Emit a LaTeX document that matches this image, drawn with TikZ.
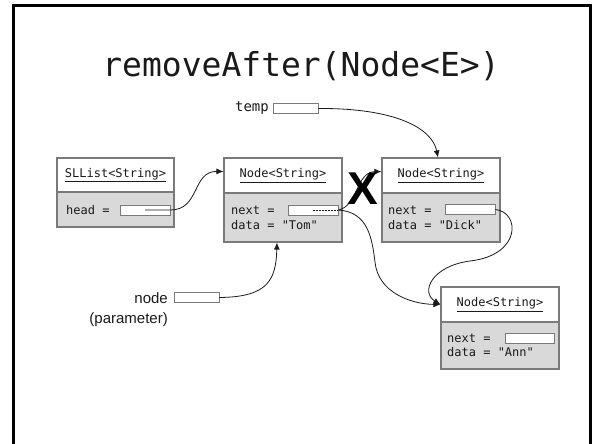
\documentclass[tikz,border=0pt]{standalone}
\usepackage{fontspec}
\setmainfont{Liberation Sans}
\newfontfamily\codefont{DejaVu Sans Mono}
\usetikzlibrary{arrows.meta}
\definecolor{boxline}{HTML}{7A7A7A}
\definecolor{boxfill}{HTML}{D9D9D9}
\definecolor{ink}{HTML}{1A1A1A}

\tikzset{
  hdrbox/.style={draw=boxline, fill=white, line width=1.1pt, minimum width=118pt,
    minimum height=35pt, inner sep=0pt, font=\codefont\fontsize{12}{14}\selectfont, text=ink},
  bodybox/.style={draw=boxline, fill=boxfill, line width=1.1pt, minimum width=118pt, inner sep=0pt},
  field/.style={draw=boxline, fill=white, line width=0.8pt, minimum width=50pt,
    minimum height=10pt, inner sep=0pt},
  codetext/.style={anchor=west, inner sep=0pt, font=\codefont\fontsize{12}{14}\selectfont, text=ink},
  labeltext/.style={anchor=east, inner sep=0pt, font=\fontsize{15}{17}\selectfont, text=ink},
  ptr/.style={line width=0.8pt, draw=ink, -{Latex[length=7pt,width=6pt]}},
}

\begin{document}
\begin{tikzpicture}[x=1pt,y=-1pt]
\useasboundingbox (0,0) rectangle (602,444);

% slide frame
\draw[line width=3pt] (13,444) -- (13,6) -- (590,6) -- (590,444);

% title
\node[font=\codefont\fontsize{33}{36}\selectfont, text=ink] (title) at (301,66) {removeAfter(Node<E>)};

% list object
\node[hdrbox, minimum width=117pt, minimum height=34pt] (slh) at (115.5,175) {\underline{SLList<String>}};
\node[bodybox, minimum width=117pt, minimum height=35pt] (slb) at (115.5,209.5) {};
\node[codetext] (slhead) at (66,210) {head =};
\node[field] (slf) at (145,210) {};

% node "Tom"
\node[hdrbox] (tomh) at (283,175.5) {\underline{Node<String>}};
\node[bodybox, minimum height=49pt] (tomb) at (283,217.5) {};
\node[codetext] (tomnext) at (231,210) {next =};
\node[codetext] (tomdata) at (231,225) {data = "Tom"};
\node[field] (tomf) at (313,210) {};

% node "Dick"
\node[hdrbox] (dickh) at (441,175.5) {\underline{Node<String>}};
\node[bodybox, minimum height=49pt] (dickb) at (441,217.5) {};
\node[codetext] (dicknext) at (388,210) {next =};
\node[codetext] (dickdata) at (388,225) {data = "Dick"};
\node[field] (dickf) at (470,209.5) {};

% node "Ann"
\node[hdrbox] (annh) at (500,304.5) {\underline{Node<String>}};
\node[bodybox, minimum height=47pt] (annb) at (500,345.5) {};
\node[codetext] (annnext) at (447,338) {next =};
\node[codetext] (anndata) at (447,352.5) {data = "Ann"};
\node[field, minimum width=49pt] (annf) at (529.5,338) {};

% local variables
\node[codetext, anchor=east, font=\codefont\fontsize{14}{16}\selectfont] (templbl) at (269,108) {temp};
\node[field, minimum width=45pt] (tempf) at (295.5,108.5) {};
\node[labeltext] (nodelbl) at (168,298) {node};
\node[labeltext] (paramlbl) at (168,320) {(parameter)};
\node[field, minimum width=45pt] (nodef) at (196.5,297.5) {};

% references
\draw[ptr] (slf.center) -- (slf.east) .. controls (200,210) and (192,171) .. ([yshift=4pt]tomh.west);
\draw[ptr] (tempf.east) .. controls (395,108) and (432,128) .. ([xshift=-3pt]dickh.north);
\draw[ptr] (nodef.east) .. controls (268,297) and (276,280) .. ([xshift=-6pt]tomb.south);
\draw[line width=0.6pt, ink, dashed, dash pattern=on 2pt off 1pt] (tomf.center) -- (tomf.east);
\draw[ptr] (tomf.east) .. controls (358,206) and (356,172) .. ([yshift=4pt]dickh.west);
\draw[ptr] (tomf.east) .. controls (368,212) and (372,238) .. (375,262)
  .. controls (378,292) and (410,304) .. (annh.west);
\draw[ptr] (dickf.east) .. controls (520,212) and (522,255) .. (470,261)
  .. controls (432,266) and (420,292) .. (annh.west);

% crossed-out reference
\node[font=\bfseries\fontsize{46}{46}\selectfont, text=black, inner sep=0pt] (cross) at (363,189) {X};
\end{tikzpicture}
\end{document}
